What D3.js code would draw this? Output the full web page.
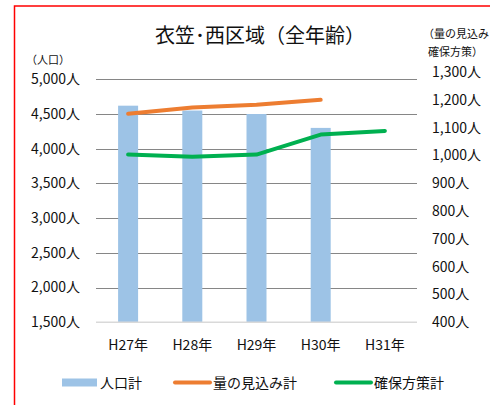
<!DOCTYPE html>
<html>
<head>
<meta charset="utf-8">
<script src="https://cdn.jsdelivr.net/npm/d3@7"></script>
<style>
  body { margin: 0; background: #fff; }
  svg { display: block; font-family: "Noto Sans CJK JP", sans-serif; }
</style>
</head>
<body>
<svg id="chart" width="490" height="405"></svg>
<script>
const years = ["H27年", "H28年", "H29年", "H30年", "H31年"];
const population = [4620, 4550, 4500, 4300, null];
const estimate = [1150, 1172, 1182, 1200, null];
const secured = [1003, 995, 1003, 1075, 1088];
const leftTicks = [1500, 2000, 2500, 3000, 3500, 4000, 4500, 5000];
const rightTicks = [400, 500, 600, 700, 800, 900, 1000, 1100, 1200, 1300];

const svg = d3.select("#chart");
const fmt = d3.format(",");
const ink = "#111";

// outer red frame
svg.append("rect").attr("x", 14.5).attr("y", 6).attr("width", 500).attr("height", 420)
    .attr("fill", "none").attr("stroke", "#ff0000").attr("stroke-width", 1.5);

const x = d3.scaleBand().domain(years).range([96, 417]);
const yL = d3.scaleLinear().domain([1500, 5000]).range([322.3, 79.3]);
const yR = d3.scaleLinear().domain([400, 1300]).range([322.3, 72]);

// gridlines
svg.append("g").selectAll("line").data(leftTicks.slice(1)).join("line")
    .attr("x1", 96).attr("x2", 417)
    .attr("y1", d => Math.round(yL(d)) + 0.5).attr("y2", d => Math.round(yL(d)) + 0.5)
    .attr("stroke", "#868686").attr("stroke-width", 1);

// bars
svg.append("g").selectAll("rect").data(years.map((y, i) => ({ y, v: population[i] })).filter(d => d.v != null))
    .join("rect")
    .attr("x", d => x(d.y) + x.bandwidth() / 2 - 10)
    .attr("width", 20)
    .attr("y", d => yL(d.v))
    .attr("height", d => yL(1500) - yL(d.v))
    .attr("fill", "#9dc3e6");

// base axis line
svg.append("line").attr("x1", 96).attr("x2", 417).attr("y1", 322.3).attr("y2", 322.3)
    .attr("stroke", "#d9d9d9").attr("stroke-width", 1.5);

const line = d3.line()
    .defined(d => d.v != null)
    .x(d => x(d.y) + x.bandwidth() / 2)
    .y(d => yR(d.v));

svg.append("path").datum(years.map((y, i) => ({ y, v: estimate[i] })))
    .attr("d", line).attr("fill", "none").attr("stroke", "#ed7d31")
    .attr("stroke-width", 4).attr("stroke-linecap", "round").attr("stroke-linejoin", "round");

svg.append("path").datum(years.map((y, i) => ({ y, v: secured[i] })))
    .attr("d", line).attr("fill", "none").attr("stroke", "#00b050")
    .attr("stroke-width", 4).attr("stroke-linecap", "round").attr("stroke-linejoin", "round");

// left axis labels
svg.append("g").selectAll("text").data(leftTicks).join("text")
    .attr("x", 80).attr("y", d => yL(d)).attr("dy", "0.35em")
    .attr("text-anchor", "end").attr("font-size", 14).attr("fill", ink)
    .text(d => fmt(d) + "人");

// right axis labels
svg.append("g").selectAll("text").data(rightTicks).join("text")
    .attr("x", 432).attr("y", d => yR(d)).attr("dy", "0.35em")
    .attr("font-size", 14).attr("fill", ink)
    .text(d => fmt(d) + "人");

// x labels
svg.append("g").selectAll("text").data(years).join("text")
    .attr("x", d => x(d) + x.bandwidth() / 2).attr("y", 345).attr("dy", "0.35em")
    .attr("text-anchor", "middle").attr("font-size", 14).attr("fill", ink)
    .text(d => d);

// titles
svg.append("text").attr("x", 260).attr("y", 36).attr("dy", "0.35em")
    .attr("text-anchor", "middle").attr("font-size", 20).attr("fill", ink)
    .text("衣笠･西区域（全年齢）");
svg.append("text").attr("x", 26).attr("y", 60).attr("dy", "0.35em")
    .attr("font-size", 11).attr("fill", ink).text("（人口）");
svg.append("text").attr("x", 423).attr("y", 34).attr("dy", "0.35em")
    .attr("font-size", 11).attr("fill", ink).text("（量の見込み・");
svg.append("text").attr("x", 428).attr("y", 52).attr("dy", "0.35em")
    .attr("font-size", 11).attr("fill", ink).text("確保方策）");

// legend
const lg = svg.append("g");
lg.append("rect").attr("x", 62).attr("y", 378.5).attr("width", 35).attr("height", 8).attr("fill", "#9dc3e6");
lg.append("text").attr("x", 100).attr("y", 383).attr("dy", "0.35em").attr("font-size", 14).attr("fill", ink).text("人口計");
lg.append("line").attr("x1", 175).attr("x2", 210).attr("y1", 382.5).attr("y2", 382.5)
    .attr("stroke", "#ed7d31").attr("stroke-width", 4).attr("stroke-linecap", "round");
lg.append("text").attr("x", 213).attr("y", 383).attr("dy", "0.35em").attr("font-size", 14).attr("fill", ink).text("量の見込み計");
lg.append("line").attr("x1", 336).attr("x2", 371).attr("y1", 382.5).attr("y2", 382.5)
    .attr("stroke", "#00b050").attr("stroke-width", 4).attr("stroke-linecap", "round");
lg.append("text").attr("x", 374).attr("y", 383).attr("dy", "0.35em").attr("font-size", 14).attr("fill", ink).text("確保方策計");
</script>
</body>
</html>
